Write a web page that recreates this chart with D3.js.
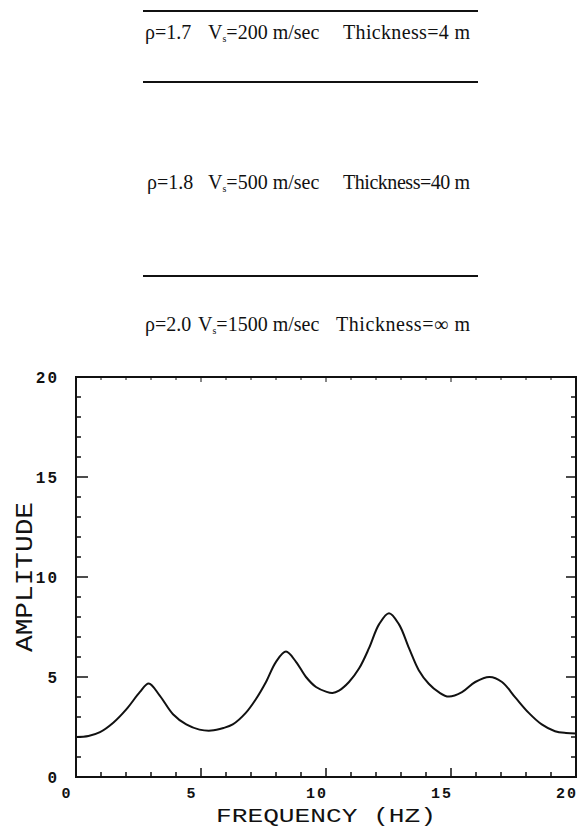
<!DOCTYPE html>
<html>
<head>
<meta charset="utf-8">
<script src="https://cdn.jsdelivr.net/npm/d3@7/dist/d3.min.js"></script>
<style>
  body { margin: 0; background: #fff; }
  svg { display: block; }
  .layer { font-family: "Liberation Serif", "Times New Roman", serif; font-size: 20px; fill: #111; }
  .plot { font-family: "Liberation Mono", "Courier New", monospace; fill: #111; }
</style>
</head>
<body>
<div id="chart"></div>
<script>
// --- data ---
const layerDensity = ["1.7", "1.8", "2.0"];
const layerVs = ["200", "500", "1500"];
const layerThickness = ["4", "40", "\u221e"];

const freq = [0, 0.5, 0.96, 1.49, 2.02, 2.55, 2.91, 3.35, 3.88, 4.41, 4.94, 5.41, 5.9, 6.27, 6.8, 7.2, 7.6, 8.0, 8.4,
  8.8, 9.2, 9.6, 10.0, 10.26, 10.52, 10.92, 11.32, 11.72, 12.12, 12.52, 12.92, 13.32, 13.71, 14.11, 14.51, 14.91,
  15.44, 15.97, 16.54, 17.04, 17.57, 18.1, 18.63, 19.16, 19.6, 20];
const amplitude = [2.0, 2.05, 2.24, 2.71, 3.39, 4.24, 4.68, 4.07, 3.14, 2.63, 2.37, 2.32, 2.45, 2.63, 3.22, 3.9, 4.75,
  5.76, 6.27, 5.76, 5.0, 4.5, 4.27, 4.2, 4.32, 4.75, 5.42, 6.44, 7.63, 8.19, 7.63, 6.44, 5.34, 4.66, 4.24, 4.02,
  4.24, 4.75, 5.0, 4.75, 3.98, 3.22, 2.63, 2.29, 2.2, 2.18];

const xTicks = [0, 5, 10, 15, 20];
const yTicks = [0, 5, 10, 15, 20];

const width = 583;
const height = 827;

const svg = d3.select("#chart").append("svg")
  .attr("width", width)
  .attr("height", height);

// --- soil layer sketch at the top ---
const lineYs = [11, 82, 276];
svg.selectAll("line.bound")
  .data(lineYs)
  .enter().append("line")
  .attr("class", "bound")
  .attr("x1", 143).attr("x2", 478)
  .attr("y1", d => d).attr("y2", d => d)
  .attr("stroke", "#111")
  .attr("stroke-width", 2);

const rowY = [39, 189, 331];
const rowX = [[145, 208, 343], [147, 208, 343], [145, 198, 336]];
layerDensity.forEach((rho, i) => {
  const g = svg.append("g").attr("class", "layer");
  g.append("text").attr("x", rowX[i][0]).attr("y", rowY[i]).text("\u03c1=" + rho);
  const v = g.append("text").attr("x", rowX[i][1]).attr("y", rowY[i]);
  v.append("tspan").text("V");
  v.append("tspan").attr("font-size", 10).attr("dy", 3).text("s");
  v.append("tspan").attr("dy", -3).text("=" + layerVs[i] + " m/sec");
  g.append("text").attr("x", rowX[i][2]).attr("y", rowY[i])
    .attr("textLength", 470 - rowX[i][2])
    .attr("lengthAdjust", "spacing")
    .text("Thickness=" + layerThickness[i] + " m");
});

// --- amplitude plot ---
const pLeft = 76, pRight = 576, pTop = 377, pBottom = 777;
const x = d3.scaleLinear().domain([0, 20]).range([pLeft, pRight]);
const y = d3.scaleLinear().domain([0, 20]).range([pBottom, pTop]);

const plot = svg.append("g").attr("class", "plot");

plot.append("rect")
  .attr("x", pLeft).attr("y", pTop)
  .attr("width", pRight - pLeft).attr("height", pBottom - pTop)
  .attr("fill", "none")
  .attr("stroke", "#111")
  .attr("stroke-width", 2);

const minor = d3.range(0, 21);
// ticks point inward on all four sides
plot.selectAll("line.ytl").data(minor).enter().append("line")
  .attr("x1", pLeft).attr("x2", d => pLeft + (d % 5 === 0 ? 12 : 5))
  .attr("y1", d => y(d)).attr("y2", d => y(d))
  .attr("stroke", "#111").attr("stroke-width", 1.5);
plot.selectAll("line.ytr").data(minor).enter().append("line")
  .attr("x1", pRight).attr("x2", d => pRight - (d % 5 === 0 ? 10 : 5))
  .attr("y1", d => y(d)).attr("y2", d => y(d))
  .attr("stroke", "#111").attr("stroke-width", 1.5);
plot.selectAll("line.xtb").data(minor).enter().append("line")
  .attr("x1", d => x(d)).attr("x2", d => x(d))
  .attr("y1", pBottom).attr("y2", d => pBottom - (d % 5 === 0 ? 9 : 5))
  .attr("stroke", "#111").attr("stroke-width", 1.5);
plot.selectAll("line.xtt").data(minor).enter().append("line")
  .attr("x1", d => x(d)).attr("x2", d => x(d))
  .attr("y1", pTop).attr("y2", d => pTop + (d % 5 === 0 ? 5 : 3))
  .attr("stroke", "#111").attr("stroke-width", 1);

plot.selectAll("text.yl").data(yTicks).enter().append("text")
  .attr("x", 59).attr("y", d => y(d) + 6)
  .attr("text-anchor", "end")
  .attr("font-size", 16)
  .attr("font-weight", "bold")
  .attr("letter-spacing", 2)
  .text(d => d);

plot.selectAll("text.xl").data(xTicks).enter().append("text")
  .attr("x", d => x(d) - 9).attr("y", pBottom + 21)
  .attr("text-anchor", "middle")
  .attr("font-size", 15)
  .attr("font-weight", "bold")
  .attr("letter-spacing", 2)
  .text(d => d);

plot.append("text")
  .attr("x", 216).attr("y", 822)
  .attr("font-size", 20)
  .attr("textLength", 220)
  .attr("lengthAdjust", "spacingAndGlyphs")
  .text("FREQUENCY (HZ)");

plot.append("text")
  .attr("transform", "translate(32,652) rotate(-90)")
  .attr("font-size", 23)
  .attr("textLength", 150)
  .attr("lengthAdjust", "spacingAndGlyphs")
  .text("AMPLITUDE");

const line = d3.line()
  .x((d, i) => x(freq[i]))
  .y(d => y(d))
  .curve(d3.curveCatmullRom.alpha(0.5));

plot.append("path")
  .datum(amplitude)
  .attr("d", line)
  .attr("fill", "none")
  .attr("stroke", "#111")
  .attr("stroke-width", 2);
</script>
</body>
</html>
